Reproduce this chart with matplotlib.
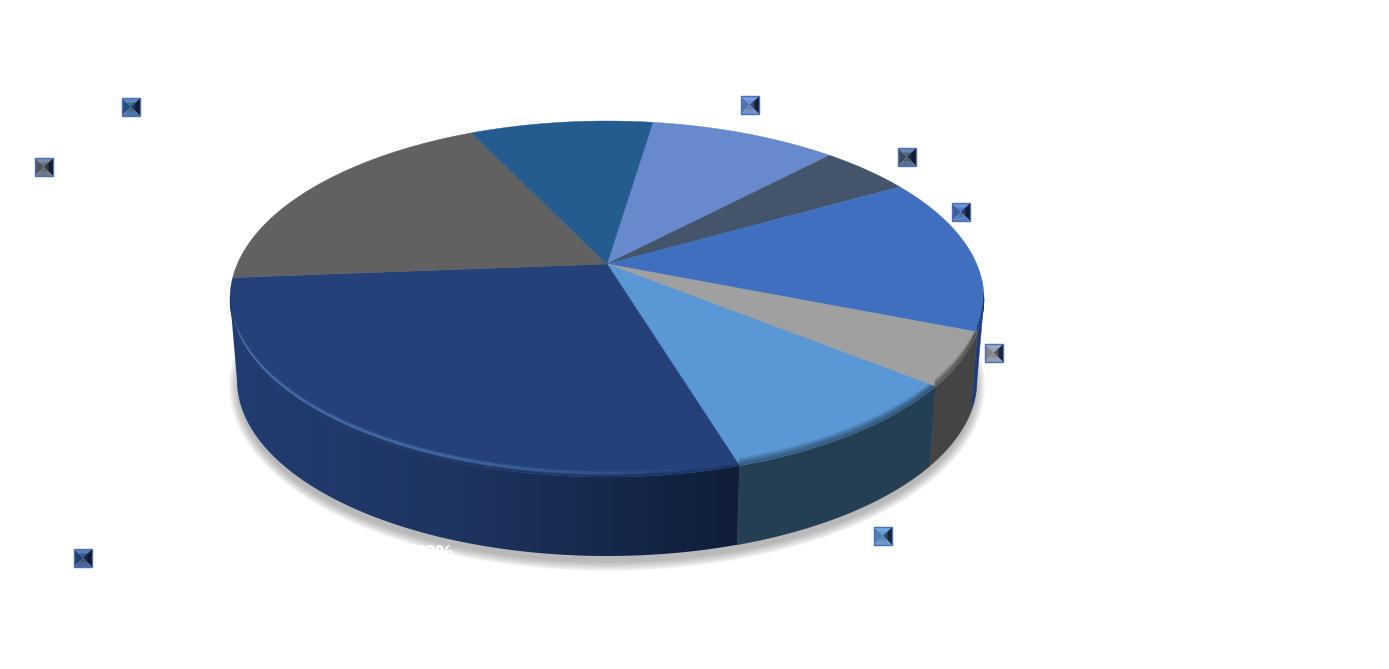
# -*- coding: utf-8 -*-
import numpy as np
import matplotlib
matplotlib.use("Agg")
import matplotlib.pyplot as plt
from matplotlib.patches import Polygon
from matplotlib.colors import LinearSegmentedColormap, to_rgb

# slices clockwise, starting from the top
shares = [8.1, 4.1, 13.8, 5.2, 11.1, 32.6, 17.2, 7.8]
top_colors = ["#6789CE", "#43546B", "#416FC0", "#A0A0A0", "#5A98D5", "#244279", "#616161", "#245C8F"]
side_colors = ["#3D5480", "#283445", "#1F3A75", "#444444", "#243E54", "#1E3768", "#3C3C3C", "#163A5A"]
icon_x = [750, 907, 961, 994, 883, 83, 44, 131]
icon_y = [105, 157, 212, 353, 536, 558, 167, 107]

W, H = 1389, 669
cx, cy, a, b = 607, 299, 377, 178
apex = (607, 264)
bx, by, ba, bb = 607, 380, 370, 176
start = 83.0


def mix(col, other, t):
    c = np.array(to_rgb(col))
    o = np.array(to_rgb(other))
    return tuple(c * (1 - t) + o * t)


def arc(x0, y0, rx, ry, t1, t2, n=200):
    t = np.radians(np.linspace(t1, t2, n))
    return np.column_stack([x0 + rx * np.cos(t), y0 - ry * np.sin(t)])


def tri(p, q, c, col, scale=1.0):
    # triangle p-q-c, optionally shrunk towards c
    p2 = c + (np.array(p) - c) * scale
    q2 = c + (np.array(q) - c) * scale
    ax.add_patch(Polygon([p2, q2, c], closed=True, fc=col, ec="none", zorder=6))


fig = plt.figure(figsize=(W / 100, H / 100), dpi=100)
ax = fig.add_axes([0, 0, 1, 1])
ax.set_axis_off()

# soft shadow under the pie
for k in range(10):
    shadow = arc(bx, by + 6, ba + 8 - k, bb + 9 - k, 0, 360, 300)
    ax.add_patch(Polygon(shadow, closed=True, fc="#6E6E6E", ec="none", alpha=0.06, zorder=1))

# angles of the slice edges
edges = start - np.concatenate([[0], np.cumsum(shares)]) * 360.0 / sum(shares)

# side wall, only the front half shows
for i in range(len(shares)):
    t1 = max(edges[i + 1], -180)
    t2 = min(edges[i], 0)
    if t2 <= t1:
        continue
    pts = np.vstack([arc(cx, cy, a, b, t2, t1), arc(bx, by, ba, bb, t1, t2)])
    if i == 5:
        # the big slice darkens towards the right
        cmap = LinearSegmentedColormap.from_list(
            "wall", [(0, "#223D72"), (0.45, "#1E3460"), (0.75, "#16284B"), (1, "#0F1D38")])
        poly = Polygon(pts, closed=True, fc="none", ec="none")
        ax.add_patch(poly)
        im = ax.imshow(np.linspace(0, 1, 256).reshape(1, -1), cmap=cmap, aspect="auto",
                       extent=[pts[:, 0].min(), pts[:, 0].max(), pts[:, 1].max(), pts[:, 1].min()], zorder=3)
        im.set_clip_path(poly)
    else:
        ax.add_patch(Polygon(pts, closed=True, fc=side_colors[i], ec=side_colors[i], lw=0.3, zorder=3))

# top face with a soft bevel along the front edge
for i in range(len(shares)):
    pts = np.vstack([[apex], arc(cx, cy, a, b, edges[i], edges[i + 1])])
    face = Polygon(pts, closed=True, fc=top_colors[i], ec=top_colors[i], lw=0.3, zorder=4)
    ax.add_patch(face)
    t1 = max(edges[i + 1], -180)
    t2 = min(edges[i], 0)
    if t2 <= t1:
        continue
    if i == 5:
        # highlight, fades out at both ends
        steps = np.arange(-176, -78, 4.0)
        for s1 in steps:
            fade = min(1, (s1 + 176) / 12 + 0.15, (-78 - s1) / 40)
            for k in np.arange(1, 9, 0.75):
                rim = arc(cx, cy - k, a, b, s1, s1 + 4.1, 12)
                line, = ax.plot(rim[:, 0], rim[:, 1], color="#5F8AC8", lw=1.0, solid_capstyle="butt",
                                alpha=fade * 0.38 * np.exp(-((k - 4) / 1.8) ** 2), zorder=5)
                line.set_clip_path(face)
        for k in np.arange(0, 3, 0.75):
            rim = arc(cx, cy - k, a, b, t1, t2)
            line, = ax.plot(rim[:, 0], rim[:, 1], color="#182C55", lw=1.0, alpha=0.5 - 0.15 * k, zorder=5)
            line.set_clip_path(face)
    else:
        for k in np.arange(0, 9, 0.75):
            rim = arc(cx, cy - k, a, b, t1, t2)
            line, = ax.plot(rim[:, 0], rim[:, 1], color=side_colors[i], lw=1.0,
                            alpha=max(0.5 - 0.06 * k, 0), zorder=5)
            line.set_clip_path(face)

# small bevelled keys, one per slice
s = 9.0
for x, y, col in zip(icon_x, icon_y, top_colors):
    c = np.array([x, y], dtype=float)
    tl, tr = (x - s, y - s), (x + s, y - s)
    bl, br = (x - s, y + s), (x + s, y + s)
    tri(tl, tr, c, mix(col, "#8FB4F5", 0.5))
    tri(tl, tr, c, mix(col, "#7FA0E0", 0.25), 0.5)
    tri(tl, bl, c, mix(col, "#20304C", 0.25))
    tri(tr, br, c, mix(col, "#080E1C", 0.85))
    tri(tr, br, c, mix(col, "#101828", 0.55), 0.5)
    tri(bl, br, c, mix(col, "#7F9CCB", 0.4))
    tri(bl, br, c, mix(col, "#707070", 0.45), 0.5)
    ax.add_patch(Polygon([tl, tr, br, bl], closed=True, fc="none", ec="#4A70B8", lw=1.0, zorder=7))

# the labels are white, only this one shows up against the shadow
ax.text(454, 553, "33%", color="white", fontsize=14, fontweight="bold", ha="right", va="center",
        family="Liberation Sans", zorder=8)

ax.set_xlim(0, W)
ax.set_ylim(H, 0)
fig.savefig("out.png", dpi=100, facecolor="white")
